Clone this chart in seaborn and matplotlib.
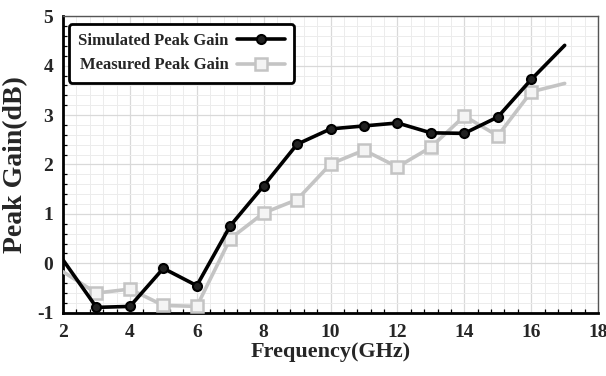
import matplotlib
matplotlib.use("Agg")
import matplotlib.pyplot as plt
import seaborn as sns
import numpy as np
from matplotlib.ticker import MultipleLocator

# Frequency sweep (GHz) and peak gain values (dB)
freq = [2, 3, 4, 5, 6, 7, 8, 9, 10, 11, 12, 13, 14, 15, 16, 17]
simulated = [0.07, -0.89, -0.87, -0.10, -0.45, 0.76, 1.57, 2.41, 2.72, 2.78, 2.84, 2.64, 2.63, 2.96, 3.72, 4.41]
measured = [-0.17, -0.60, -0.52, -0.85, -0.87, 0.50, 1.02, 1.29, 2.01, 2.29, 1.95, 2.35, 2.98, 2.58, 3.47, 3.64]

x_ticks = [2, 4, 6, 8, 10, 12, 14, 16, 18]
y_ticks = [-1, 0, 1, 2, 3, 4, 5]

sns.set_theme(style="white")
plt.rcParams["font.family"] = ["Liberation Serif", "DejaVu Serif"]
plt.rcParams["font.weight"] = "bold"
plt.rcParams["axes.unicode_minus"] = False

fig = plt.figure(figsize=(6.06, 3.76), dpi=100)
ax = fig.add_axes([0.104, 0.168, 0.883, 0.789])

marks = slice(1, -1)
sns.lineplot(x=freq, y=simulated, ax=ax, color="black", linewidth=2.6,
             marker="o", markersize=6.5, markerfacecolor="#222222",
             markeredgecolor="black", markeredgewidth=1.5, markevery=marks,
             label="Simulated Peak Gain", zorder=4)
sns.lineplot(x=freq, y=measured, ax=ax, color="#c4c4c4", linewidth=2.6,
             marker="s", markersize=8, markerfacecolor="#f4f4f4",
             markeredgecolor="#c4c4c4", markeredgewidth=1.8, markevery=marks,
             label="Measured Peak Gain", zorder=3)

ax.set_xlim(2, 18)
ax.set_ylim(-1, 5)
ax.set_xticks(x_ticks)
ax.set_yticks(y_ticks)
ax.xaxis.set_minor_locator(MultipleLocator(0.4))
ax.yaxis.set_minor_locator(MultipleLocator(0.2))

ax.grid(which="major", color="#d9d9d9", linewidth=0.9)
ax.grid(which="minor", color="#ececec", linewidth=0.7)
ax.set_axisbelow(True)

for side in ("left", "bottom"):
    ax.spines[side].set_color("black")
    ax.spines[side].set_linewidth(2.0)
for side in ("top", "right"):
    ax.spines[side].set_color("#555555")
    ax.spines[side].set_linewidth(1.0)

ax.tick_params(which="major", direction="out", length=6, width=1.5,
               color="black", labelsize=14, pad=2)
ax.tick_params(which="minor", direction="in", length=3, width=0.9,
               color="black", left=True, bottom=True)
ax.tick_params(axis="y", which="major", pad=1)
for lbl in ax.get_xticklabels() + ax.get_yticklabels():
    lbl.set_fontweight("bold")

ax.set_xlabel("Frequency(GHz)", fontsize=16, fontweight="bold", labelpad=1)
ax.set_ylabel("Peak Gain(dB)", fontsize=20, fontweight="bold", labelpad=6)

leg = ax.legend(loc="upper left", bbox_to_anchor=(0.005, 0.985),
                markerfirst=False, frameon=True, fancybox=True,
                prop={"family": "Liberation Serif", "weight": "bold", "size": 12},
                handlelength=2.9, handletextpad=0.5, borderpad=0.55,
                labelspacing=0.5, borderaxespad=0.2)
frame = leg.get_frame()
frame.set_edgecolor("black")
frame.set_linewidth(2.0)
frame.set_facecolor("white")
frame.set_alpha(1.0)

fig.savefig("out.png", dpi=100)
